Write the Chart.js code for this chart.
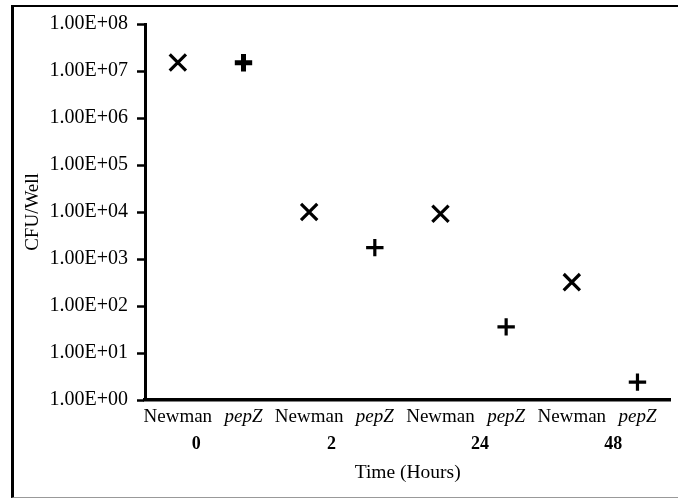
<!DOCTYPE html>
<html>
<head>
<meta charset="utf-8">
<script src="https://cdn.jsdelivr.net/npm/chart.js@4/dist/chart.umd.min.js"></script>
<style>
  body { margin: 0; background: #fff; overflow: hidden; }
  #frame {
    position: absolute; left: 11px; top: 5px; width: 700px; height: 490px;
    border-top: 2px solid #000; border-left: 3px solid #000; border-bottom: 1px solid #999;
  }
  #cfu { position: absolute; left: 0; top: 0; }
</style>
</head>
<body>
<div id="frame"></div>
<!-- a little wider than the window: the layout keeps ~15px free on the right -->
<canvas id="cfu" width="685" height="498"></canvas>
<script>
let times = ["0", "2", "24", "48"]
let strains = ["Newman", "pepZ"]
let newmanCFU = [1.52e7, 1.0e4, 9.2e3, 322]
let pepzCFU = [1.5e7, 1.75e3, 36, 2.4]
let yTicks = [1, 10, 100, 1e3, 1e4, 1e5, 1e6, 1e7, 1e8]

const serif = "'Liberation Serif', 'Times New Roman', serif"

// each time point gets two slots on the x axis: Newman then pepZ
let newmanPts = newmanCFU.map((v, i) => ({ x: i * 2 + 0.5, y: v }))
let pepzPts = pepzCFU.map((v, i) => ({ x: i * 2 + 1.5, y: v }))
let slotLabels = []
times.forEach(() => strains.forEach(s => slotLabels.push(s)))

function sci(v) {
    let exp = Math.round(Math.log10(v))
    let mant = v / Math.pow(10, exp)
    return mant.toFixed(2) + "E+" + String(exp).padStart(2, "0")
}

// fixed height, and no extra side padding from the label overflow
function fixH(h) {
    return s => { s.height = h; s.paddingLeft = 0; s.paddingRight = 0 }
}

new Chart("cfu", {
    type: "scatter",
    data: {
        datasets: [{
            label: "Newman",
            data: newmanPts,
            pointStyle: "crossRot",
            pointRadius: 11.5,
            pointHoverRadius: 11.5,
            pointBorderWidth: 3.2,
            pointHoverBorderWidth: 3.2,
            borderColor: "#000",
            backgroundColor: "#000"
        }, {
            label: "pepZ",
            data: pepzPts,
            pointStyle: "cross",
            pointRadius: 8.7,
            pointHoverRadius: 8.7,
            pointBorderWidth: [5, 3.2, 3.2, 3.2],
            pointHoverBorderWidth: 3.2,
            borderColor: "#000",
            backgroundColor: "#000"
        }]
    },
    options: {
        responsive: false,
        animation: false,
        layout: { padding: { top: 24, right: 0, bottom: 0, left: 0 } },
        plugins: { legend: { display: false }, tooltip: { enabled: false } },
        scales: {
            y: {
                type: "logarithmic",
                min: 1,
                max: 1e8,
                afterBuildTicks: s => { s.ticks = yTicks.map(v => ({ value: v })) },
                afterFit: s => { s.width = 145 },
                ticks: {
                    color: "#000",
                    padding: 9,
                    font: { family: serif, size: 20 },
                    callback: v => sci(v)
                },
                grid: {
                    drawOnChartArea: false,
                    drawTicks: true,
                    tickLength: 8,
                    tickWidth: 2.5,
                    tickColor: "#000"
                },
                border: { color: "#000", width: 3 },
                title: {
                    display: true,
                    text: "CFU/Well",
                    color: "#000",
                    font: { family: serif, size: 19 },
                    padding: { top: 21.6, bottom: 0 }
                }
            },
            x: {
                type: "linear",
                min: 0,
                max: 8,
                weight: 0,
                afterBuildTicks: s => { s.ticks = slotLabels.map((l, i) => ({ value: i + 0.5 })) },
                afterFit: fixH(28.4),
                ticks: {
                    color: "#000",
                    padding: 5.6,
                    maxRotation: 0,
                    autoSkip: false,
                    font: ctx => ({ family: serif, size: 19, style: ctx.index % 2 ? "italic" : "normal" }),
                    callback: (v, i) => slotLabels[i]
                },
                grid: { display: false, drawTicks: false },
                border: { color: "#000", width: 3.5 }
            },
            x2: {
                type: "linear",
                position: "bottom",
                min: 0,
                max: 8,
                weight: 1,
                afterBuildTicks: s => { s.ticks = [0.78, 2.84, 5.1, 7.13].map(v => ({ value: v })) },
                afterFit: fixH(69.6),
                ticks: {
                    color: "#000",
                    padding: 4.8,
                    maxRotation: 0,
                    autoSkip: false,
                    font: { family: serif, size: 18, weight: "bold" },
                    callback: (v, i) => times[i]
                },
                grid: { display: false, drawTicks: false },
                border: { display: false },
                title: {
                    display: true,
                    text: "Time (Hours)",
                    color: "#000",
                    font: { family: serif, size: 19.5 },
                    padding: { top: 6.8, bottom: 13.6 }
                }
            }
        }
    }
})
</script>
</body>
</html>
